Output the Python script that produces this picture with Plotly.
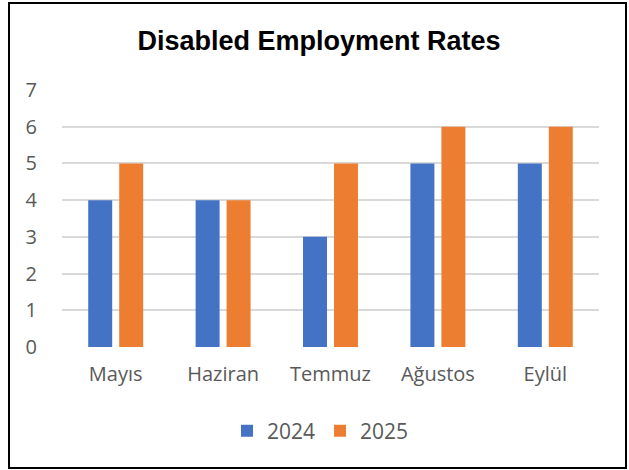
import plotly.graph_objects as go

categories = ["Mayıs", "Haziran", "Temmuz", "Ağustos", "Eylül"]
series_names = ["2024", "2025"]
values_2024 = [4, 4, 3, 5, 5]
values_2025 = [5, 4, 5, 6, 6]
y_ticks = [0, 1, 2, 3, 4, 5, 6, 7]

colors = ["#4472C4", "#ED7D31"]

fig = go.Figure()
for name, vals, col in zip(series_names, [values_2024, values_2025], colors):
    fig.add_trace(go.Bar(x=categories, y=vals, name=name, marker_color=col,
                         marker_line_width=0))

W, H = 629, 470
ml, mr, mt, mb = 62, 30, 90, 123
pw, ph = W - ml - mr, H - mt - mb

def px_x(p):
    return (p - ml) / pw

def px_y(p):
    return (H - mb - p) / ph

fig.update_layout(
    width=W, height=H,
    margin=dict(l=ml, r=mr, t=mt, b=mb),
    paper_bgcolor="white", plot_bgcolor="white",
    barmode="group", bargap=0.423, bargroupgap=0.226,
    title=dict(text="Disabled Employment Rates",
               font=dict(family="Liberation Sans, Arial", size=27, color="#000000", weight="bold"),
               x=319 / W, xanchor="center", xref="container",
               y=1 - 41 / H, yanchor="middle", yref="container"),
    font=dict(family="Open Sans, Noto Sans", color="#595959", size=20),
    showlegend=True,
    legend=dict(orientation="h", x=(W / 2 + 6) / W, xanchor="center",
                xref="container", y=1 - 431 / H, yref="container", yanchor="middle",
                font=dict(size=21, color="#595959"), itemwidth=30, traceorder="normal"),
    shapes=[dict(type="rect", xref="paper", yref="paper",
                 x0=px_x(9), x1=px_x(626), y0=px_y(468), y1=px_y(3),
                 line=dict(color="#000000", width=2), fillcolor="rgba(0,0,0,0)",
                 layer="above")],
)
fig.update_xaxes(showgrid=False, zeroline=False, showline=False, ticks="",
                 tickfont=dict(size=20, color="#595959"), ticklabelstandoff=13)
fig.update_yaxes(range=[0, 7], tickvals=y_ticks, showgrid=True, gridcolor="#D9D9D9",
                 gridwidth=1.5, zeroline=False, showline=False, ticks="",
                 tickfont=dict(size=20, color="#595959"), ticklabelstandoff=24)

fig.write_html("out.html", config={"displayModeBar": False},
               post_script="document.body.style.margin='0';document.body.style.padding='0';")
